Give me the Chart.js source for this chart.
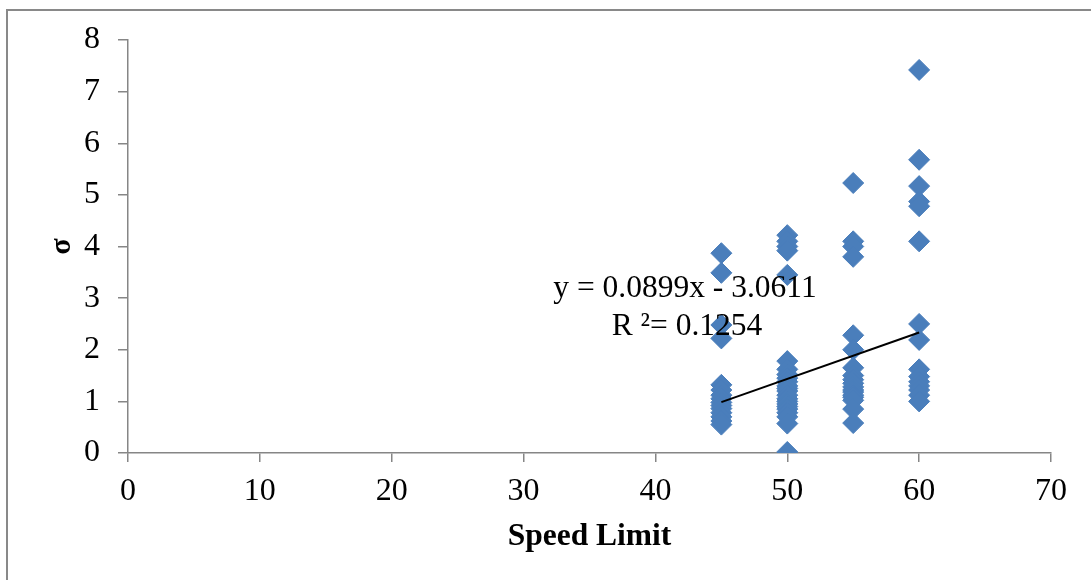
<!DOCTYPE html>
<html>
<head>
<meta charset="utf-8">
<script src="https://cdn.jsdelivr.net/npm/chart.js@4/dist/chart.umd.min.js"></script>
<style>
  html, body { margin: 0; padding: 0; background: #ffffff; }
  #c { display: block; }
</style>
</head>
<body>
<canvas id="c" width="1091" height="580"></canvas>
<script>
// ---- data ----
const speedLimits = [45, 50, 55, 60];
const sigma45 = [3.87, 3.49, 2.48, 2.22, 1.32, 1.22, 1.12, 1.05, 0.98, 0.92, 0.86, 0.78, 0.70, 0.62, 0.55];
const sigma50 = [4.22, 4.10, 4.00, 3.92, 3.45, 1.78, 1.62, 1.52, 1.45, 1.38, 1.30, 1.25, 1.20, 1.12, 1.05, 1.00, 0.95, 0.90, 0.85, 0.78, 0.70, 0.57, 0.02];
const sigma55 = [5.23, 4.10, 4.00, 3.80, 2.28, 2.00, 1.65, 1.50, 1.42, 1.35, 1.28, 1.22, 1.18, 1.12, 1.08, 1.02, 0.85, 0.58];
const sigma60 = [7.42, 5.68, 5.17, 4.87, 4.78, 4.10, 2.50, 2.19, 1.62, 1.48, 1.38, 1.30, 1.22, 1.12, 1.00];
const xTicks = [0, 10, 20, 30, 40, 50, 60, 70];
const yTicks = [0, 1, 2, 3, 4, 5, 6, 7, 8];
const trendSlope = 0.0899;
const trendIntercept = -3.0611;
const trendRange = [45, 60];
const equationLabel = 'y = 0.0899x - 3.0611';
const r2Label = 'R ²= 0.1254';
const xTitle = 'Speed Limit';
const yTitle = 'σ';

// ---- build datasets ----
const groups = [sigma45, sigma50, sigma55, sigma60];
const scatterPoints = [];
groups.forEach((arr, i) => arr.forEach(v => scatterPoints.push({ x: speedLimits[i], y: v })));
const trendPoints = trendRange.map(x => ({ x: x, y: trendSlope * x + trendIntercept }));

const SERIF = '"Liberation Serif", "Times New Roman", serif';

const framePlugin = {
  id: 'frame',
  beforeDraw(chart) {
    const ctx = chart.ctx;
    ctx.save();
    ctx.fillStyle = '#ffffff';
    ctx.fillRect(0, 0, chart.width, chart.height);
    ctx.strokeStyle = '#898989';
    ctx.lineWidth = 2;
    ctx.strokeRect(7, 10, 1110, 600);
    ctx.restore();
  }
};

const labelPlugin = {
  id: 'trendLabel',
  afterDraw(chart) {
    const ctx = chart.ctx;
    ctx.save();
    ctx.fillStyle = '#000000';
    ctx.font = '31.5px ' + SERIF;
    ctx.textAlign = 'center';
    ctx.textBaseline = 'alphabetic';
    ctx.fillText(equationLabel, 685, 297);
    ctx.fillText(r2Label, 687, 335);
    ctx.restore();
  }
};

new Chart(document.getElementById('c'), {
  type: 'scatter',
  data: {
    datasets: [
      {
        label: 'σ',
        data: scatterPoints,
        pointStyle: 'rectRot',
        pointRadius: 10.5,
        pointHoverRadius: 10.5,
        backgroundColor: '#4a7ebb',
        borderColor: '#4a7ebb',
        borderWidth: 1,
        order: 2
      },
      {
        type: 'line',
        label: 'trend',
        data: trendPoints,
        borderColor: '#000000',
        borderWidth: 2,
        pointRadius: 0,
        showLine: true,
        fill: false,
        order: 1
      }
    ]
  },
  options: {
    responsive: false,
    animation: false,
    layout: { padding: { left: 44, top: 40, right: 40, bottom: 24 } },
    plugins: {
      legend: { display: false },
      tooltip: { enabled: false }
    },
    scales: {
      x: {
        type: 'linear',
        min: 0, max: 70,
        afterBuildTicks(scale) { scale.ticks = xTicks.map(v => ({ value: v })); },
        afterFit(scale) { scale.height = 103; },
        grid: { drawOnChartArea: false, drawTicks: true, tickLength: 9, color: '#868686', lineWidth: 1.5 },
        border: { color: '#868686', width: 1.5 },
        ticks: { color: '#000000', padding: 10, font: { family: SERIF, size: 32 } },
        title: { display: true, text: xTitle, color: '#000000', padding: { top: 0, bottom: 0 }, font: { family: SERIF, size: 31.5, weight: 'bold' } }
      },
      y: {
        type: 'linear',
        min: 0, max: 8,
        afterBuildTicks(scale) { scale.ticks = yTicks.map(v => ({ value: v })); },
        afterFit(scale) { scale.width = 84; },
        grid: { drawOnChartArea: false, drawTicks: true, tickLength: 10, color: '#868686', lineWidth: 1.5 },
        border: { color: '#868686', width: 1.5 },
        ticks: { color: '#000000', padding: 18, font: { family: SERIF, size: 32 } },
        title: { display: true, text: yTitle, color: '#000000', padding: { top: 0, bottom: 0 }, font: { family: SERIF, size: 30, weight: 'bold' } }
      }
    }
  },
  plugins: [framePlugin, labelPlugin]
});
</script>
</body>
</html>
